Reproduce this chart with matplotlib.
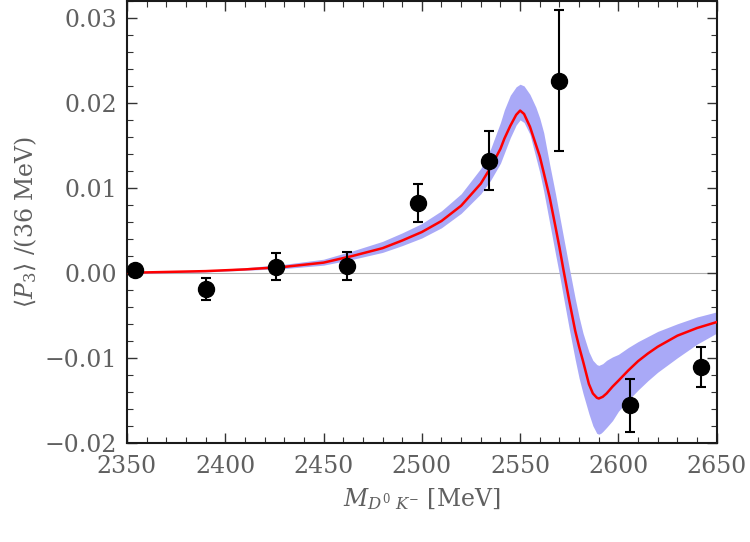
import numpy as np
import matplotlib
matplotlib.use('Agg')
import matplotlib.pyplot as plt

plt.rcParams['font.family'] = 'DejaVu Serif'
plt.rcParams['mathtext.fontset'] = 'dejavuserif'

# measured moments (bin centres, 36 MeV bins)
mass = [2354, 2390, 2426, 2462, 2498, 2534, 2570, 2606, 2642]
p3 = [0.0003, -0.0019, 0.0007, 0.0008, 0.0082, 0.0132, 0.0226, -0.0156, -0.0111]
p3_err = [0.0005, 0.0013, 0.0016, 0.0017, 0.0022, 0.0035, 0.0083, 0.0031, 0.0024]

# model curve and its uncertainty band
curve_m = [2350, 2370, 2390, 2410, 2430, 2450, 2465, 2480, 2490, 2500,
           2510, 2520, 2530, 2535, 2540, 2542, 2545, 2548, 2550, 2552,
           2555, 2558, 2560, 2562, 2565, 2568, 2570, 2572, 2575, 2578,
           2580, 2582, 2585, 2587, 2589, 2590, 2591, 2592, 2594, 2597,
           2600, 2605, 2610, 2615, 2620, 2630, 2640, 2650]
curve = [0.0000, 0.0001, 0.0002, 0.0004, 0.0007, 0.0012, 0.0020, 0.0029, 0.0038, 0.0048,
         0.0061, 0.0079, 0.0105, 0.0124, 0.0146, 0.0158, 0.0173, 0.0186, 0.0191, 0.0187,
         0.0172, 0.0151, 0.0137, 0.0118, 0.0089, 0.0054, 0.0030, 0.0004, -0.0033, -0.0068,
         -0.0087, -0.0104, -0.0131, -0.0142, -0.0147, -0.0148, -0.0147, -0.0146, -0.0142, -0.0134,
         -0.0127, -0.0115, -0.0104, -0.0095, -0.0087, -0.0074, -0.0065, -0.0058]
band_lo = [-0.0001, 0.0000, 0.0001, 0.0003, 0.0005, 0.0009, 0.0016, 0.0024, 0.0032, 0.0041,
           0.0053, 0.0070, 0.0093, 0.0109, 0.0129, 0.0141, 0.0159, 0.0174, 0.0180, 0.0177,
           0.0163, 0.0136, 0.0118, 0.0096, 0.0059, 0.0022, -0.0002, -0.0028, -0.0066, -0.0102,
           -0.0124, -0.0142, -0.0166, -0.0180, -0.0189, -0.0190, -0.0189, -0.0187, -0.0182, -0.0174,
           -0.0163, -0.0150, -0.0138, -0.0127, -0.0117, -0.0100, -0.0084, -0.0071]
band_hi = [0.0001, 0.0002, 0.0003, 0.0006, 0.0010, 0.0016, 0.0026, 0.0037, 0.0047, 0.0058,
           0.0073, 0.0093, 0.0123, 0.0146, 0.0177, 0.0192, 0.0209, 0.0219, 0.0222, 0.0220,
           0.0210, 0.0195, 0.0182, 0.0165, 0.0128, 0.0093, 0.0068, 0.0043, 0.0006, -0.0030,
           -0.0052, -0.0071, -0.0093, -0.0103, -0.0108, -0.0109, -0.0108, -0.0107, -0.0103, -0.0099,
           -0.0096, -0.0088, -0.0081, -0.0075, -0.0069, -0.0060, -0.0052, -0.0046]

fig = plt.figure(figsize=(7.5, 5.42), dpi=100)
ax = fig.add_axes([0.1693, 0.1832, 0.7863, 0.815])

ax.axhline(0, color='#b0b0b0', lw=0.8, zorder=1)
ax.fill_between(curve_m, band_lo, band_hi, color='#a9a9f7', lw=0, zorder=2)
ax.plot(curve_m, curve, color='red', lw=1.8, zorder=3)
ax.errorbar(mass, p3, yerr=p3_err, fmt='o', color='black', ms=11.5,
            elinewidth=1.5, capsize=3.5, capthick=1.5, zorder=4, clip_on=False)

ax.set_xlim(2350, 2650)
ax.set_ylim(-0.02, 0.032)
ax.set_xticks(np.arange(2350, 2651, 50))
ax.set_xticks(np.arange(2350, 2651, 10), minor=True)
ax.set_yticks([-0.02, -0.01, 0.0, 0.01, 0.02, 0.03])
ax.set_yticks(np.arange(-0.02, 0.0321, 0.002), minor=True)
ax.set_yticklabels(['\u22120.02', '\u22120.01', '0.00', '0.01', '0.02', '0.03'])

ax.tick_params(which='both', direction='in', top=True, right=True,
               color='#333333', labelcolor='#606060', labelsize=17)
ax.tick_params(which='major', length=7, width=1.0, pad=7)
ax.tick_params(axis='x', which='major', pad=9)
ax.tick_params(which='minor', length=4, width=0.8)
for s in ax.spines.values():
    s.set_color('#1a1a1a')
    s.set_linewidth(1.5)

ax.set_xlabel(r'$M_{D^0\ K^{-}}$ [MeV]', fontsize=17, color='#606060', labelpad=6)
ax.set_ylabel(r'$\langle P_3\rangle$ /(36 MeV)', fontsize=17, color='#606060', labelpad=4)

fig.savefig('out.png', dpi=100)
